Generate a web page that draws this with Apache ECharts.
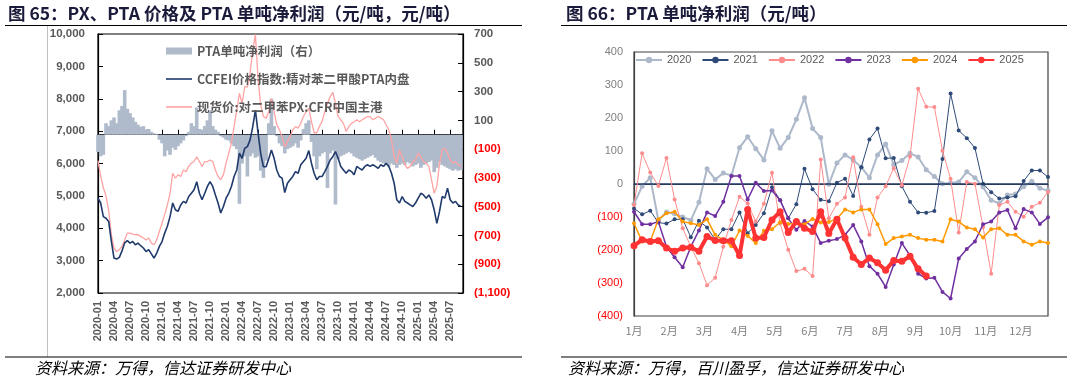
<!DOCTYPE html>
<html><head><meta charset="utf-8">
<script src="https://cdn.jsdelivr.net/npm/echarts@6/dist/echarts.min.js"></script>
<style>html,body{margin:0;padding:0;background:#fff}#c{width:1073px;height:381px}</style>
</head><body><div id="c"></div>
<script>
// ---------- Left chart (figure 65): half-monthly samples from 2020-01 ----------
const leftTickLabels = ['2020-01','2020-04','2020-07','2020-10','2021-01','2021-04','2021-07','2021-10',
  '2022-01','2022-04','2022-07','2022-10','2023-01','2023-04','2023-07','2023-10',
  '2024-01','2024-04','2024-07','2024-10','2025-01','2025-04','2025-07'];
const leftYLabels = ['2,000','3,000','4,000','5,000','6,000','7,000','8,000','9,000','10,000'];
const rightYLabels = ['(1,100)','(900)','(700)','(500)','(300)','(100)','100','300','500','700'];

const ptaProfit = [-120,-150,-140,80,60,100,120,80,170,200,
 310,180,150,120,90,70,55,60,35,40,
 20,10,5,-35,-60,-150,-110,-140,-90,-105,
 -80,-60,-40,-10,20,80,60,190,40,35,
 60,100,170,60,35,20,-10,-20,-35,-40,
 -60,-80,-100,-480,-200,-150,-290,-150,-130,-160,
 -150,-250,-300,-180,80,250,60,-10,-60,-80,
 -130,-100,-90,-80,-60,-90,-40,40,80,100,
 -50,-150,-240,-150,-130,-120,-370,-130,-110,-485,
 -170,-150,-140,-130,-120,-130,-150,-160,-170,-180,
 -170,-160,-150,-140,-160,-180,-190,-200,-210,-220,
 -200,-210,-230,-210,-200,-210,-190,-200,-220,-210,
 -200,-230,-210,-200,-190,-180,-260,-230,-190,-210,
 -220,-230,-240,-250,-240,-250,-245];

const ptaPrice = [4930,4780,4360,4310,4210,3600,3080,3050,3100,3300,
 3550,3620,3540,3590,3490,3540,3460,3390,3280,3340,
 3210,3080,3230,3440,3590,3850,4060,4360,4780,4570,
 4520,4720,4830,4780,4980,5080,5190,5440,5080,4880,
 5080,5290,5440,5290,5030,4780,4470,4670,4930,5080,
 5290,5600,5800,6320,6160,6470,6520,6730,7140,7650,
 6940,6300,5900,5900,6150,6420,6160,5800,5600,5550,
 5100,5390,5500,5600,5750,5700,5960,6060,6160,6400,
 6010,5700,5500,5600,5600,5750,5910,6110,6210,6370,
 6160,5910,5800,5700,5800,5750,5650,5910,5850,5800,
 5910,5960,5910,5960,5910,5850,5960,5910,6010,5910,
 5700,5390,4880,4780,4980,4830,4780,4720,4670,4780,
 4930,5080,5030,4930,5030,4880,4570,4150,4520,4980,
 4930,5240,4880,4780,4830,4720,4670];

const pxPrice = [6090,5600,5250,5000,4550,3800,3390,3280,3340,3440,
 3640,3850,3850,3820,3800,3800,3750,3700,3640,3700,
 3540,3490,3640,3900,4160,4420,4720,5080,5700,5550,
 5650,5600,5800,5750,5910,6010,6060,6210,6060,5910,
 6060,6060,6110,6060,5800,5600,5500,5650,6010,6320,
 6630,7140,7650,8170,7860,8370,8370,8790,9510,9980,
 8600,7800,7450,7400,7600,8000,7600,7200,7040,6830,
 6520,6680,6830,7040,7140,7090,7240,7450,7600,7700,
 7300,6950,6950,7150,7300,7600,7850,8060,8200,7860,
 7450,7350,7240,6990,7140,7240,7290,7350,7290,7350,
 7400,7450,7450,7350,7400,7450,7400,7350,7190,7040,
 6730,6210,6010,6420,6210,5960,5850,5910,6060,6110,
 6320,6210,6060,6010,5910,5500,5080,5300,6000,6420,
 6470,6320,6110,6010,6060,5960,5910];

// ---------- Right chart (figure 66): weekly PTA profit by year ----------
const monthLabels = ['1月','2月','3月','4月','5月','6月','7月','8月','9月','10月','11月','12月'];
const profitYLabels = ['(400)','(300)','(200)','(100)','0','100','200','300','400'];
const years = ['2020','2021','2022','2023','2024','2025'];

const y2020 = [-60,-7,19,-110,-85,-90,-100,-110,-55,46,
 14,33,26,110,143,107,73,161,108,141,
 196,261,168,141,-1,64,88,73,51,19,
 88,121,59,71,93,82,43,23,1,3,
 6,37,19,-9,-49,-59,-33,-30,-8,8,
 -13,-20];
const y2021 = [-74,-92,-81,-117,-120,-107,-107,-161,-111,-132,
 -169,-137,-137,-86,-149,-124,-89,-10,-49,-104,
 -61,46,-16,-48,-52,4,16,-36,51,135,
 168,78,79,-7,-54,-86,-87,-82,76,274,
 162,139,109,1,-25,-44,-41,-37,9,41,
 41,21];
const y2022 = [-64,93,35,-6,79,-47,-134,-190,-240,-307,
 -284,-190,-109,-39,-59,-114,-60,34,-120,-199,
 -264,-257,-279,74,-104,-60,-41,81,-69,-154,
 -41,-7,48,-4,83,289,234,233,101,16,
 -147,6,1,-130,-272,-64,-54,-84,-99,-69,
 -57,-24];
const y2023 = [-84,-122,-122,-114,-190,-222,-252,-190,-141,-86,
 -97,-54,24,24,-47,4,-21,-20,-49,-104,
 -139,-112,-129,-179,-172,-167,-154,-124,-174,-249,
 -272,-312,-244,-179,-217,-272,-286,-284,-327,-347,
 -226,-197,-174,-122,-114,-86,-79,-134,-76,-86,
 -121,-101];
const y2024 = [-119,-174,-174,-107,-89,-84,-114,-119,-124,-107,
 -154,-169,-189,-141,-157,-179,-142,-137,-116,-121,
 -119,-122,-106,-117,-115,-105,-77,-86,-77,-77,
 -122,-182,-164,-159,-154,-164,-169,-169,-174,-107,
 -114,-132,-137,-162,-137,-134,-154,-154,-174,-184,
 -174,-179];
const y2025 = [-187,-169,-174,-172,-194,-204,-194,-192,-204,-159,
 -171,-172,-172,-217,-77,-164,-162,-109,-84,-147,
 -114,-134,-144,-84,-150,-107,-164,-222,-244,-224,
 -239,-261,-232,-234,-219,-257,-279];
const yearData = [y2020, y2021, y2022, y2023, y2024, y2025];

// ---------- build ----------
const CJK = '"Noto Sans CJK SC", sans-serif';
const LAT = '"Liberation Sans", Arial, sans-serif';
const halfMonth = arr => arr.map((v, i) => [i * 0.5, v]);   // x = months since 2020-01
const weekly = arr => arr.map((v, i) => [i, v]);            // x = week index in year
const WEEKS_PER_MONTH = 52 / 12;
const LINE_ICON = 'path://M0,0 H26 V1.6 H0 Z';

const yearStyles = [
  {color:'#ADB9CA', width:2,   size:5},
  {color:'#2E4A78', width:1,   size:4},
  {color:'#FF8C8C', width:1,   size:4},
  {color:'#7030A0', width:1.5, size:4},
  {color:'#FF9900', width:1.5, size:4},
  {color:'#FF3333', width:4,   size:7}
];

const rightSeries = years.map((y, k) => ({
  name: y, type: 'line', xAxisIndex: 1, yAxisIndex: 3,
  data: weekly(yearData[k]),
  symbol: 'circle', symbolSize: yearStyles[k].size,
  lineStyle: {color: yearStyles[k].color, width: yearStyles[k].width},
  itemStyle: {color: yearStyles[k].color},
  z: 3 + k,
  markLine: k === 0 ? {silent: true, symbol: 'none', label: {show: false},
    lineStyle: {color: '#1F3864', width: 1.5, type: 'solid'}, data: [{yAxis: 0}]} : undefined
}));

const option = {
  animation: false,
  backgroundColor: '#fff',
  grid: [
    {left: 98, top: 34, width: 365, height: 259, show: true, borderColor: '#000', borderWidth: 1.2},
    {left: 634, top: 52, width: 414, height: 264, show: true, borderColor: '#404040', borderWidth: 1.2}
  ],
  legend: [
    {
      orient: 'vertical', left: 166, top: 44, padding: 0, itemGap: 14, itemWidth: 26, itemHeight: 7,
      textStyle: {fontFamily: CJK, fontSize: 12.5, color: '#595959', fontWeight: 'bold', lineHeight: 14},
      data: [
        {name: 'PTA单吨净利润（右）', icon: 'rect'},
        {name: 'CCFEI价格指数:精对苯二甲酸PTA内盘', icon: LINE_ICON},
        {name: '现货价:对二甲苯PX:CFR中国主港', icon: LINE_ICON}
      ]
    },
    {
      orient: 'horizontal', left: 635, top: 53, padding: 0, itemGap: 10, itemWidth: 26, itemHeight: 8,
      textStyle: {fontFamily: LAT, fontSize: 11, color: '#595959', lineHeight: 14},
      data: years
    }
  ],
  xAxis: [
    {
      type: 'value', gridIndex: 0, min: 0, max: 68.4, interval: 3,
      axisLine: {show: true, lineStyle: {color: '#000', width: 1.2}},
      axisTick: {show: true, inside: true, length: 5, lineStyle: {color: '#000'}},
      splitLine: {show: false},
      axisLabel: {
        rotate: 90, margin: 8, fontFamily: LAT, fontSize: 11, fontWeight: 'bold', color: '#595959',
        formatter: v => { const q = v / 3, r = Math.round(q); return Math.abs(q - r) < 1e-6 ? (leftTickLabels[r] || '') : ''; }
      }
    },
    {
      type: 'value', gridIndex: 1, min: 0, max: 51, interval: WEEKS_PER_MONTH,
      axisLine: {show: true, lineStyle: {color: '#404040', width: 1.2}},
      axisTick: {show: false}, splitLine: {show: false},
      axisLabel: {
        margin: 9, fontFamily: CJK, fontSize: 11, color: '#7F7F7F',
        formatter: v => { const m = v / WEEKS_PER_MONTH, r = Math.round(m); return Math.abs(m - r) < 1e-4 ? (monthLabels[r] || '') : ''; }
      }
    }
  ],
  yAxis: [
    {
      type: 'value', gridIndex: 0, position: 'left', min: 2000, max: 10000, interval: 1000,
      axisLine: {show: true, lineStyle: {color: '#000', width: 1.2}},
      axisTick: {show: true, inside: true, length: 5, lineStyle: {color: '#000'}},
      splitLine: {show: false},
      axisLabel: {margin: 13, fontFamily: LAT, fontSize: 11.5, fontWeight: 'bold', color: '#595959',
        formatter: v => leftYLabels[Math.round((v - 2000) / 1000)] || ''}
    },
    { // data axis for profit bars (real units)
      type: 'value', gridIndex: 0, position: 'right', min: -1100, max: 700, show: false
    },
    { // label axis for profit, offset units (v + 1100)
      type: 'value', gridIndex: 0, position: 'right', min: 0, max: 1800, interval: 200,
      axisLine: {show: true, lineStyle: {color: '#000', width: 1.2}},
      axisTick: {show: true, inside: true, length: 5, lineStyle: {color: '#000'}},
      splitLine: {show: false},
      axisLabel: {margin: 11, fontFamily: LAT, fontSize: 11.5, fontWeight: 'bold',
        formatter: v => rightYLabels[Math.round(v / 200)] || '',
        color: v => ((rightYLabels[Math.round(v / 200)] || '').charAt(0) === '(' ? '#FF0000' : '#595959')}
    },
    {
      type: 'value', gridIndex: 1, min: -400, max: 400, interval: 100,
      axisLine: {show: true, lineStyle: {color: '#404040', width: 1.2}},
      axisTick: {show: false}, splitLine: {show: false},
      axisLabel: {margin: 11, fontFamily: LAT, fontSize: 11,
        formatter: v => profitYLabels[Math.round((v + 400) / 100)] || '',
        color: v => (v < 0 ? '#FF0000' : '#7F7F7F')}
    }
  ],
  series: [
    {
      name: 'PTA单吨净利润（右）', type: 'bar', xAxisIndex: 0, yAxisIndex: 1,
      data: halfMonth(ptaProfit), barWidth: 3.6, itemStyle: {color: '#AFBACB'}, z: 1
    },
    {
      name: 'CCFEI价格指数:精对苯二甲酸PTA内盘', type: 'line', xAxisIndex: 0, yAxisIndex: 0,
      data: halfMonth(ptaPrice), symbol: 'none', lineStyle: {color: '#1F3A6B', width: 1.6},
      itemStyle: {color: '#1F3A6B'}, z: 3
    },
    {
      name: '现货价:对二甲苯PX:CFR中国主港', type: 'line', xAxisIndex: 0, yAxisIndex: 0,
      data: halfMonth(pxPrice), symbol: 'none', lineStyle: {color: '#FFA3A3', width: 1.3},
      itemStyle: {color: '#FFA3A3'}, z: 2
    }
  ].concat(rightSeries),
  graphic: [
    {type: 'text', x: 8, y: 13, style: {text: '图 65：PX、PTA 价格及 PTA 单吨净利润（元/吨，元/吨）',
      font: 'bold 17.5px ' + CJK, fill: '#1A1A3A', verticalAlign: 'middle', textVerticalAlign: 'middle'}},
    {type: 'text', x: 566, y: 13, style: {text: '图 66：PTA 单吨净利润（元/吨）',
      font: 'bold 17.5px ' + CJK, fill: '#1A1A3A', verticalAlign: 'middle', textVerticalAlign: 'middle'}},
    {type: 'line', shape: {x1: 5, y1: 25.5, x2: 522, y2: 25.5}, style: {stroke: '#000', lineWidth: 1.2}},
    {type: 'line', shape: {x1: 561, y1: 25.5, x2: 1067, y2: 25.5}, style: {stroke: '#000', lineWidth: 1.2}},
    {type: 'line', shape: {x1: 47.5, y1: 26, x2: 47.5, y2: 357}, style: {stroke: '#BFBFBF', lineWidth: 1}},
    {type: 'line', shape: {x1: 5, y1: 357, x2: 522, y2: 357}, style: {stroke: '#000', lineWidth: 1.2}},
    {type: 'line', shape: {x1: 561, y1: 357, x2: 1067, y2: 357}, style: {stroke: '#000', lineWidth: 1.2}},
    {type: 'text', x: 35, y: 368, style: {text: '资料来源：万得，信达证券研发中心',
      font: 'italic 16px ' + CJK, fill: '#000', verticalAlign: 'middle', textVerticalAlign: 'middle'}},
    {type: 'text', x: 568, y: 368, style: {text: '资料来源：万得，百川盈孚，信达证券研发中心',
      font: 'italic 16px ' + CJK, fill: '#000', verticalAlign: 'middle', textVerticalAlign: 'middle'}}
  ]
};

const chart = echarts.init(document.getElementById('c'), null, {renderer: 'canvas', width: 1073, height: 381});
chart.setOption(option);
</script>
</body></html>
